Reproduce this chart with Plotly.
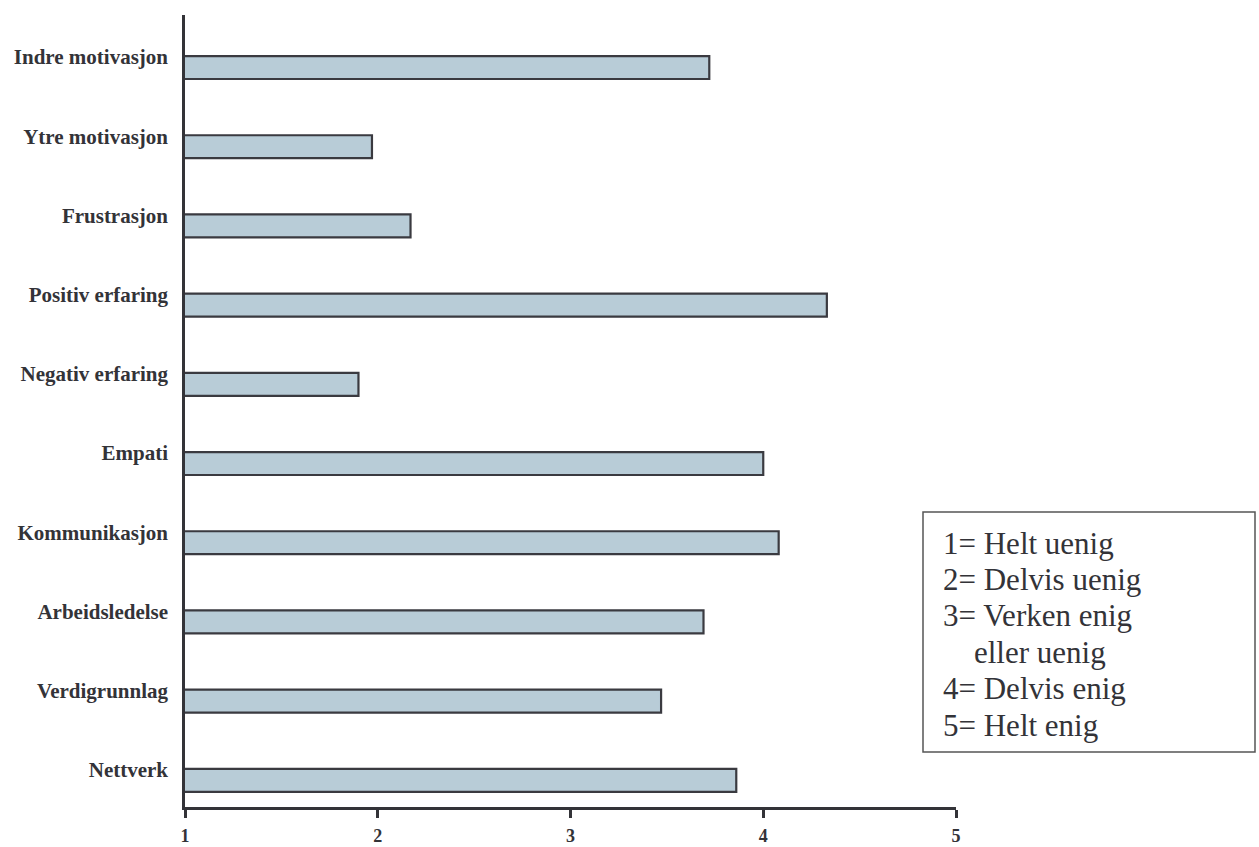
import plotly.graph_objects as go

categories = [
    "Indre motivasjon", "Ytre motivasjon", "Frustrasjon", "Positiv erfaring",
    "Negativ erfaring", "Empati", "Kommunikasjon", "Arbeidsledelse",
    "Verdigrunnlag", "Nettverk",
]
means = [3.72, 1.97, 2.17, 4.33, 1.90, 4.00, 4.08, 3.69, 3.47, 3.86]

x_ticks = [1, 2, 3, 4, 5]
scale_lines = [
    "1= Helt uenig",
    "2= Delvis uenig",
    "3= Verken enig",
    "    eller uenig",
    "4= Delvis enig",
    "5= Helt enig",
]

W, H = 1259, 847
L, R, T, B = 185, 303, 15, 40
INK = "#333338"
SERIF = "Liberation Serif, Times New Roman, serif"

fig = go.Figure(
    go.Bar(
        y=categories,
        x=means,
        orientation="h",
        width=0.29,
        offset=-0.012,
        marker=dict(color="#b8ccd7", line=dict(color="#3a3a40", width=2.2)),
        hoverinfo="x+y",
    )
)

fig.update_layout(
    width=W,
    height=H,
    margin=dict(l=L, r=R, t=T, b=B, pad=0),
    paper_bgcolor="white",
    plot_bgcolor="white",
    showlegend=False,
    font=dict(family=SERIF, color=INK),
)

fig.update_xaxes(
    range=[1, 5],
    automargin=False,
    tickvals=x_ticks,
    ticktext=[f"<b>{t}</b>" for t in x_ticks],
    tickfont=dict(size=18, color=INK),
    showgrid=False,
    zeroline=False,
    showline=True,
    linecolor=INK,
    linewidth=2.5,
    ticks="outside",
    ticklen=8,
    tickwidth=2.5,
    tickcolor=INK,
    ticklabelstandoff=3,
)

fig.update_yaxes(
    type="category",
    automargin=False,
    categoryorder="array",
    categoryarray=categories,
    range=[9.47, -0.53],
    ticktext=[f"<b>{c}</b>" for c in categories],
    tickvals=categories,
    tickfont=dict(size=21, color=INK),
    showgrid=False,
    zeroline=False,
    showline=True,
    linecolor=INK,
    linewidth=2.5,
    ticks="",
    ticklabelstandoff=10,
)

# Response-scale key in a framed box
pw, ph = W - L - R, H - T - B
fig.add_shape(
    type="rect", xref="paper", yref="paper",
    x0=(923 - L) / pw, x1=(1255 - L) / pw,
    y0=(H - B - 752) / ph, y1=(H - B - 512) / ph,
    line=dict(color="#555", width=1.5), fillcolor="white",
)
for i, line in enumerate(scale_lines):
    ypix = 543 + i * 36.4
    fig.add_annotation(
        xref="paper", yref="paper",
        x=(941 - L) / pw, y=(H - B - ypix) / ph,
        xanchor="left", yanchor="middle",
        text=line.replace(" ", "&nbsp;") if line.startswith(" ") else line,
        showarrow=False,
        font=dict(size=31, color=INK, family=SERIF),
    )

fig.write_html("out.html")
